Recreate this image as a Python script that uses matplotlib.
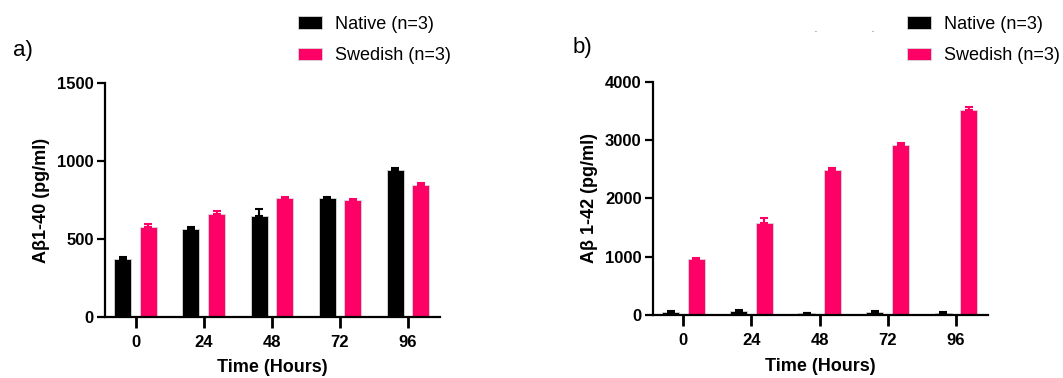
import numpy as np
import matplotlib.pyplot as plt
from matplotlib.patches import Patch

plt.rcParams['font.family'] = ['Liberation Sans', 'DejaVu Sans']

# data
hours = ['0', '24', '48', '72', '96']

ab40_native = [370, 565, 650, 760, 943]
ab40_native_err = [15, 14, 45, 12, 15]
ab40_swedish = [575, 663, 765, 752, 845]
ab40_swedish_err = [20, 14, 7, 6, 15]

ab42_native = [55, 75, 35, 55, 35]
ab42_native_err = [8, 8, 5, 8, 12]
ab42_swedish = [963, 1585, 2488, 2915, 3510]
ab42_swedish_err = [12, 70, 38, 40, 65]

BLACK = '#000000'
PINK = '#FF0066'

fig = plt.figure(figsize=(10.63, 3.78), dpi=100)
ax1 = fig.add_axes([0.0988, 0.1622, 0.3152, 0.6175])
ax2 = fig.add_axes([0.614, 0.1667, 0.3154, 0.617])


def draw_panel(ax, native, native_err, swedish, swedish_err, ymax, step, ylabel):
    x = np.arange(len(hours))
    w = 0.25
    off = 0.188
    for vals, errs, col, sh in [(native, native_err, BLACK, -off),
                                (swedish, swedish_err, PINK, off)]:
        ax.bar(x + sh, vals, width=w, color=col, edgecolor='#d9d9d9', linewidth=0.6, zorder=2)
        ax.errorbar(x + sh, vals, yerr=[np.zeros(len(vals)), errs], fmt='none',
                    ecolor=col, elinewidth=1.5, capsize=3, capthick=1.5, zorder=3)
    ax.set_xlim(-0.45, 4.47)
    ax.set_ylim(0, ymax)
    ax.set_yticks(np.arange(0, ymax + 1, step))
    ax.set_xticks(x)
    ax.set_xticklabels(hours)
    for s in ['top', 'right']:
        ax.spines[s].set_visible(False)
    for s in ['left', 'bottom']:
        ax.spines[s].set_linewidth(1.6)
    ax.tick_params(axis='y', length=6, width=1.6, labelsize=12, pad=2)
    ax.tick_params(axis='x', length=8, width=2, labelsize=12, pad=5)
    for lab in ax.get_xticklabels() + ax.get_yticklabels():
        lab.set_fontweight('bold')
    ax.set_xlabel('Time (Hours)', fontsize=13, fontweight='bold', labelpad=7)
    ax.set_ylabel(ylabel, fontsize=13, fontweight='bold', labelpad=5)


draw_panel(ax1, ab40_native, ab40_native_err, ab40_swedish, ab40_swedish_err,
           1500, 500, 'Aβ1-40 (pg/ml)')
draw_panel(ax2, ab42_native, ab42_native_err, ab42_swedish, ab42_swedish_err,
           4000, 1000, 'Aβ 1-42 (pg/ml)')

handles = [Patch(facecolor=BLACK, edgecolor='#d9d9d9', linewidth=0.6),
           Patch(facecolor=PINK, edgecolor='#d9d9d9', linewidth=0.6)]
labels = ['Native (n=3)', 'Swedish (n=3)']
for xpos in [0.2803, 0.853]:
    fig.legend(handles, labels, loc='upper left', bbox_to_anchor=(xpos, 0.958),
               frameon=False, fontsize=13, handlelength=1.33, handleheight=0.7,
               handletextpad=0.72, labelspacing=0.8, borderpad=0, borderaxespad=0)

fig.text(0.012, 0.866, 'a)', fontsize=16, va='center', ha='left')
fig.text(0.539, 0.874, 'b)', fontsize=16, va='center', ha='left')
# two stray specks above panel b
fig.text(0.767, 0.92, '.', fontsize=5, ha='center', va='center')
fig.text(0.821, 0.92, '.', fontsize=5, ha='center', va='center')

fig.savefig('out.png', dpi=100)
